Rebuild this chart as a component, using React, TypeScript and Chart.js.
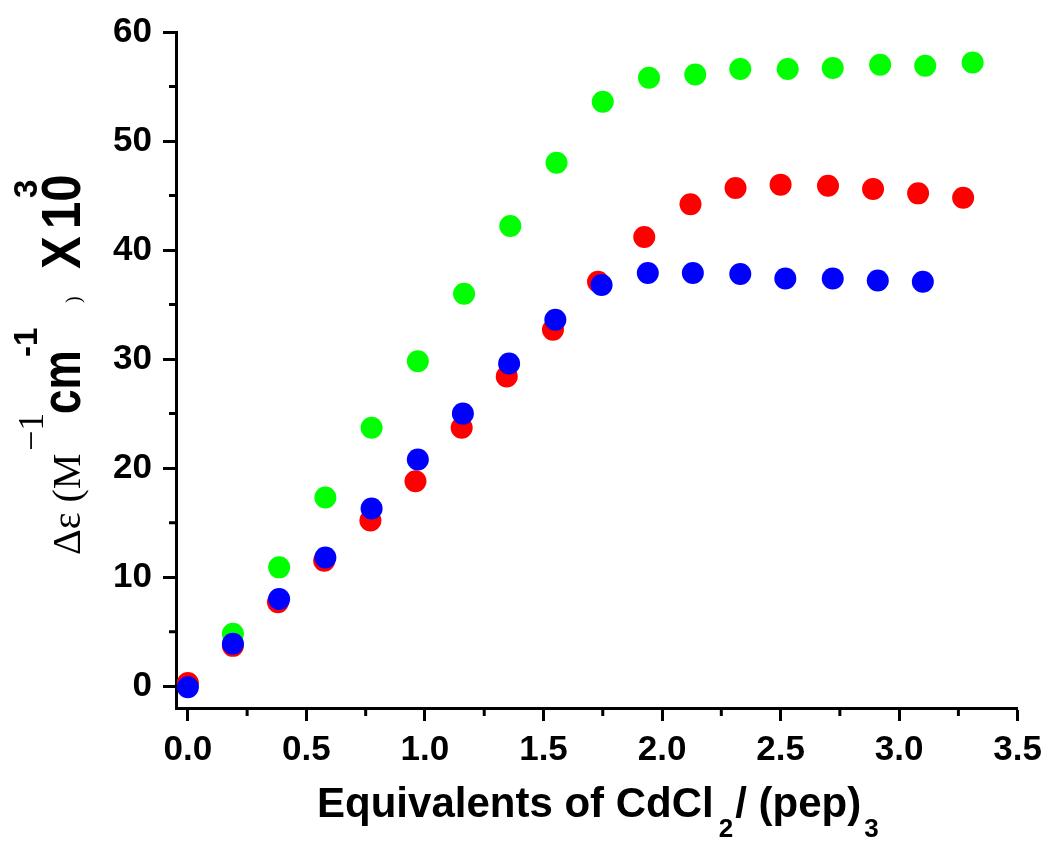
import React, { useEffect, useRef } from "react";
import { Chart, registerables } from "chart.js";

Chart.register(...registerables);

// ---- data ----
const GREEN_X = [0, 0.19, 0.385, 0.58, 0.775, 0.97, 1.165, 1.36, 1.555, 1.75, 1.945, 2.14, 2.33, 2.53, 2.72, 2.92, 3.11, 3.31];
const GREEN_Y = [0.2, 4.8, 10.9, 17.3, 23.7, 29.8, 36.0, 42.2, 48.0, 53.6, 55.8, 56.1, 56.6, 56.6, 56.7, 57.0, 56.9, 57.2];

const RED_X = [0, 0.19, 0.38, 0.575, 0.77, 0.96, 1.155, 1.345, 1.54, 1.73, 1.925, 2.12, 2.31, 2.5, 2.7, 2.89, 3.08, 3.27];
const RED_Y = [0.3, 3.7, 7.7, 11.5, 15.2, 18.8, 23.7, 28.4, 32.7, 37.1, 41.2, 44.2, 45.7, 46.0, 45.9, 45.6, 45.2, 44.8];

const BLUE_X = [0, 0.19, 0.385, 0.58, 0.775, 0.97, 1.16, 1.355, 1.55, 1.745, 1.94, 2.13, 2.33, 2.52, 2.72, 2.91, 3.1];
const BLUE_Y = [-0.1, 3.9, 8.0, 11.8, 16.3, 20.8, 25.0, 29.6, 33.6, 36.8, 37.9, 37.9, 37.8, 37.4, 37.4, 37.2, 37.1];

const X_TICKS = [0, 0.5, 1, 1.5, 2, 2.5, 3, 3.5];
const X_MINOR = [0.25, 0.75, 1.25, 1.75, 2.25, 2.75, 3.25];
const Y_TICKS = [0, 10, 20, 30, 40, 50, 60];
const Y_MINOR = [5, 15, 25, 35, 45, 55];

const X_TITLE_MAIN = "Equivalents of CdCl";
const X_TITLE_SUB1 = "2";
const X_TITLE_MID = "/ (pep)";
const X_TITLE_SUB2 = "3";

const SANS = '"Liberation Sans", Arial, sans-serif';
const SERIF = '"Liberation Serif", "Times New Roman", serif';

const toPts = (xs: number[], ys: number[]) => xs.map((x, i) => ({ x, y: ys[i] }));

const minorTicksPlugin = {
  id: "minorTicks",
  afterDraw(chart: any) {
    const { ctx, chartArea, scales } = chart;
    ctx.save();
    ctx.strokeStyle = "#000";
    ctx.lineWidth = 3;
    ctx.beginPath();
    X_MINOR.forEach((v) => {
      const px = scales.x.getPixelForValue(v);
      ctx.moveTo(px, chartArea.bottom);
      ctx.lineTo(px, chartArea.bottom + 8);
    });
    Y_MINOR.forEach((v) => {
      const py = scales.y.getPixelForValue(v);
      ctx.moveTo(chartArea.left, py);
      ctx.lineTo(chartArea.left - 7, py);
    });
    ctx.stroke();
    ctx.restore();
  },
};

const titlesPlugin = {
  id: "axisTitles",
  afterDraw(chart: any) {
    const { ctx, chartArea } = chart;
    ctx.save();
    ctx.fillStyle = "#000";
    ctx.textBaseline = "alphabetic";
    ctx.textAlign = "left";

    // X title with subscripts
    const mainFont = `bold 42px ${SANS}`;
    const subFont = `bold 26px ${SANS}`;
    ctx.font = mainFont;
    const wMain = ctx.measureText(X_TITLE_MAIN).width;
    const wMid = ctx.measureText(X_TITLE_MID).width;
    ctx.font = subFont;
    const wS1 = ctx.measureText(X_TITLE_SUB1).width;
    const wS2 = ctx.measureText(X_TITLE_SUB2).width;
    const gap1 = 5, gap2 = 2, gap3 = 3;
    const total = wMain + gap1 + wS1 + gap2 + wMid + gap3 + wS2;
    const cx = (chartArea.left + chartArea.right) / 2 + 1;
    let x = cx - total / 2;
    const base = chartArea.bottom + 109;
    ctx.font = mainFont;
    ctx.fillText(X_TITLE_MAIN, x, base);
    x += wMain + gap1;
    ctx.font = subFont;
    ctx.fillText(X_TITLE_SUB1, x, base + 20);
    x += wS1 + gap2;
    ctx.font = mainFont;
    ctx.fillText(X_TITLE_MID, x, base);
    x += wMid + gap3;
    ctx.font = subFont;
    ctx.fillText(X_TITLE_SUB2, x, base + 20);

    // Y title (rotated) with mixed fonts and superscripts
    const segs = [
      { t: "Δε (M", f: `normal 40px ${SERIF}`, u: 0, rise: 0, s: 1 },
      { t: "−1", f: `normal 36px ${SERIF}`, u: 104, rise: 37, s: 1 },
      { t: "cm", f: `bold 44px ${SANS}`, u: 141, rise: 0, s: 1.25 },
      { t: "-1", f: `bold 33px ${SANS}`, u: 198, rise: 43, s: 1 },
      { t: ")", f: `normal 20px ${SERIF}`, u: 252, rise: 0, s: 1 },
      { t: "X", f: `bold 49px ${SANS}`, u: 286, rise: 0, s: 1.15 },
      { t: "10", f: `bold 49px ${SANS}`, u: 326, rise: 0, s: 1.15 },
      { t: "3", f: `bold 33px ${SANS}`, u: 357, rise: 43, s: 1 },
    ];
    const bx = chartArea.left - 96;
    const by = (chartArea.top + chartArea.bottom) / 2 + 185;
    ctx.translate(bx, by);
    ctx.rotate(-Math.PI / 2);
    segs.forEach((sg) => {
      ctx.save();
      ctx.translate(sg.u, -sg.rise);
      ctx.scale(1, sg.s);
      ctx.font = sg.f;
      ctx.fillText(sg.t, 0, 0);
      ctx.restore();
    });
    ctx.restore();
  },
};

export default function App() {
  const ref = useRef<HTMLCanvasElement | null>(null);

  useEffect(() => {
    if (!ref.current) return;
    const tickFont = { family: SANS, size: 35, weight: "bold" as const };
    const chart = new Chart(ref.current, {
      type: "scatter",
      data: {
        datasets: [
          {
            label: "blue",
            data: toPts(BLUE_X, BLUE_Y),
            backgroundColor: "#0000ff",
            borderWidth: 0,
            pointRadius: 11,
            pointHoverRadius: 11,
            clip: false as any,
          },
          {
            label: "red",
            data: toPts(RED_X, RED_Y),
            backgroundColor: "#ff0000",
            borderWidth: 0,
            pointRadius: 11,
            pointHoverRadius: 11,
            clip: false as any,
          },
          {
            label: "green",
            data: toPts(GREEN_X, GREEN_Y),
            backgroundColor: "#00ff00",
            borderWidth: 0,
            pointRadius: 11,
            pointHoverRadius: 11,
            clip: false as any,
          },
        ],
      },
      options: {
        animation: false,
        responsive: true,
        maintainAspectRatio: false,
        events: [],
        layout: { padding: { left: 0, top: 28, right: 32, bottom: 0 } },
        plugins: {
          legend: { display: false },
          tooltip: { enabled: false },
          title: { display: false },
        },
        scales: {
          x: {
            type: "linear",
            min: -0.05,
            max: 3.5,
            afterBuildTicks: (s: any) => {
              s.ticks = X_TICKS.map((v) => ({ value: v }));
            },
            afterFit: (s: any) => {
              s.height = 135;
            },
            grid: {
              display: true,
              drawOnChartArea: false,
              drawTicks: true,
              tickLength: 13,
              tickWidth: 3,
              tickColor: "#000",
              color: "#000",
            },
            border: { display: true, color: "#000", width: 3 },
            ticks: {
              font: tickFont,
              color: "#000",
              padding: 8,
              maxRotation: 0,
              autoSkip: false,
              callback: (v: any) => Number(v).toFixed(1),
            },
          },
          y: {
            type: "linear",
            min: -2,
            max: 60,
            afterBuildTicks: (s: any) => {
              s.ticks = Y_TICKS.map((v) => ({ value: v }));
            },
            afterFit: (s: any) => {
              s.width = 176;
            },
            grid: {
              display: true,
              drawOnChartArea: false,
              drawTicks: true,
              tickLength: 13,
              tickWidth: 3,
              tickColor: "#000",
              color: "#000",
            },
            border: { display: true, color: "#000", width: 3 },
            ticks: {
              font: tickFont,
              color: "#000",
              padding: 11,
              autoSkip: false,
              callback: (v: any) => String(v),
            },
          },
        },
      },
      plugins: [minorTicksPlugin, titlesPlugin],
    });
    return () => chart.destroy();
  }, []);

  return (
    <div style={{ position: "absolute", left: 0, top: 0, width: 1050, height: 843, background: "#fff" }}>
      <canvas ref={ref} />
    </div>
  );
}
